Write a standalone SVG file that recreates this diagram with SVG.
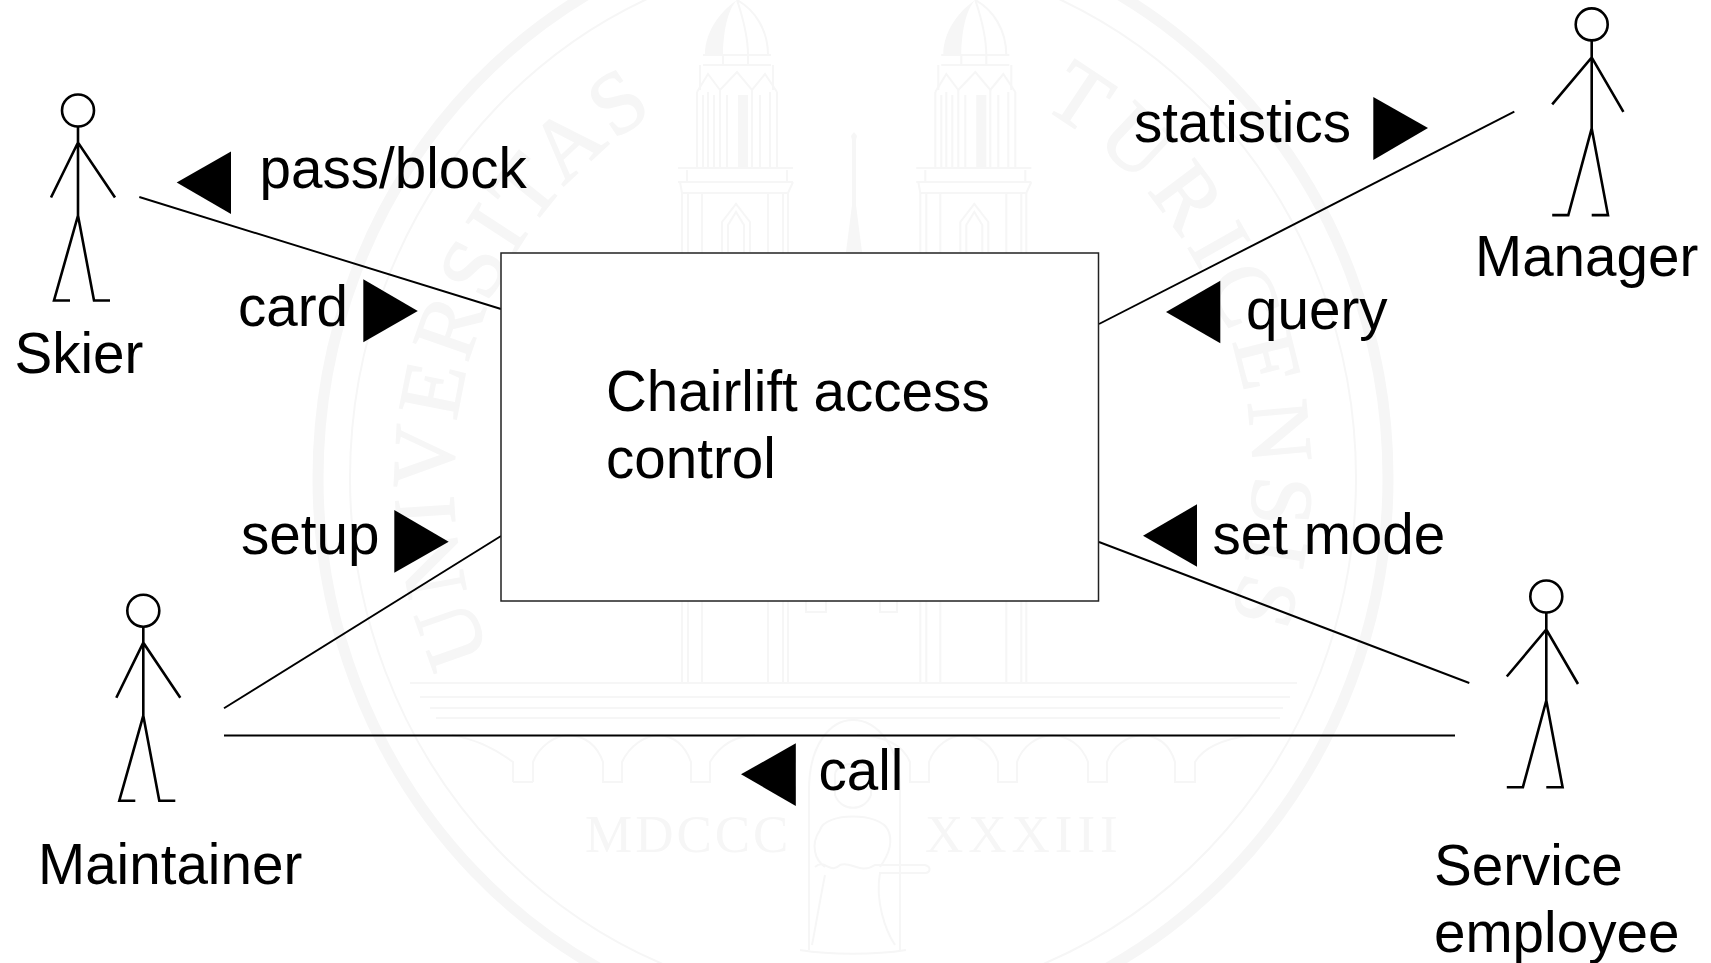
<svg xmlns="http://www.w3.org/2000/svg" width="1711" height="963" viewBox="0 0 1711 963">
  <style>
    .lbl { font-family: "Liberation Sans", Arial, sans-serif; font-size: 56.6px; fill: #000; }
    .fig { fill: #fff; stroke: #000; stroke-width: 2.6; }
    .figl { fill: none; stroke: #000; stroke-width: 2.6; }
    .conn { fill: none; stroke: #000; stroke-width: 1.9; }
    .tri { fill: #000; stroke: none; }
    .box { fill: #fff; stroke: #222; stroke-width: 1.5; }
    .wm { fill: none; stroke: #f6f6f6; stroke-width: 2; }
    .wmf { fill: #f6f6f6; stroke: none; }
    .wmt { font-family: "Liberation Serif", "Times New Roman", serif; fill: #f6f6f6; }
    .wmc { stroke: #f6f6f6; stroke-width: 1.5; }
  </style>
  <defs>
    <g id="actorA">
      <circle class="fig" cx="0" cy="0" r="16"/>
      <path class="figl" d="M0,16V105M-27,87L0,32L37,87M-8,190H-24L0,105L16,190H32"/>
    </g>
    <g id="actorB">
      <circle class="fig" cx="0" cy="0" r="16"/>
      <path class="figl" d="M0,16V104M-39.5,80L0,33L31.7,87.5M-39.5,190.7H-23.4L0,104L16.3,190.7H0"/>
    </g>
    <g id="tower">
      <path class="wmf" d="M705,55C705,30 722,10 737,0C727,10 723,35 723,55Z"/>
      <path class="wm" d="M737,0C755,10 768,30 768,55M737,0C742,15 748,35 748,55M703,55H771M703,65H771M723,55V65M748,55V65M700,65V90M773,65V90"/>
      <path class="wm" d="M697,92L708,74L720,90L737,72L752,90L765,74L777,92"/>
      <path class="wm" d="M697,92V168M703,95V168M708,92V168M714,95V168M720,90V168M727,95V168M752,90V168M760,95V168M770,92V168M777,92V168"/>
      <rect class="wmf" x="738" y="95" width="10" height="73"/>
      <path class="wm" d="M678,168H793M687,170V182M787,170V182M678,182H793M682,193H788M680,182L682,193M793,182L788,193"/>
      <path class="wm" d="M682,193V683M688,193V683M702,193V683M768,193V683M783,193V683M788,193V683"/>
      <path class="wm" d="M722,252V222L736,204L750,222V252M728,252V225L736,212L744,225V252"/>
    </g>
    <path id="arcL" d="M490.5,655.5A400,420 0 0 1 671.4,103.8"/>
    <path id="arcR" d="M1040.8,107.2A400,420 0 0 1 1223.9,635.3"/>
  </defs>

  <g id="watermark">
    <ellipse cx="853" cy="478" rx="535" ry="557" fill="none" stroke="#f6f6f6" stroke-width="11"/>
    <ellipse class="wm" cx="853" cy="478" rx="503" ry="525"/>
    <use href="#tower"/>
    <use href="#tower" transform="translate(238.3,0)"/>
    <path class="wmf" d="M851,136L854,132L857,136L856,140V205L862,252H846L852,205V140Z"/>
    <path class="wm" d="M806,601V612H826V601M880,601V612H897V601"/>
    <path class="wm" d="M410,683H1297M420,697H1290M430,708H1283M436,718H1280"/>
    <path class="wm" d="M513,782H533M513,782V762C490,745 470,738 452,735M533,782V762C540,745 555,736 568,735C585,736 597,745 603,762V782H622V762C630,745 645,736 658,735C675,736 685,745 691,762V782H710V762C720,745 735,736 755,735M603,782H622M691,782H710"/>
    <path class="wm" d="M857,735C885,736 903,745 910,762V782H929V762C935,745 950,736 963,735C980,736 992,745 998,762V782H1017V762C1023,745 1038,736 1052,735C1068,736 1082,745 1088,762V782H1107V762C1113,745 1128,736 1142,735C1158,736 1170,745 1175,762V782H1195V762C1205,745 1230,738 1252,735M910,782H929M998,782H1017M1088,782H1107M1175,782H1195"/>
    <text class="wmt" font-size="53" letter-spacing="3" x="585" y="852">MDCCC</text>
    <text class="wmt" font-size="53" letter-spacing="5" x="925" y="852">XXXIII</text>
    <text class="wmt wmc" font-size="88" letter-spacing="4.8"><textPath href="#arcL">UNIVERSITAS</textPath></text>
    <text class="wmt wmc" font-size="88" letter-spacing="9"><textPath href="#arcR">TURICENSIS</textPath></text>
    <path class="wm" d="M809,950V790C809,745 830,720 853,720C876,720 900,745 900,790V950M800,950C830,955 875,955 906,950"/>
    <path class="wm" d="M835,775C835,760 871,760 871,775V795C865,812 841,812 835,795ZM820,830C825,812 880,812 888,830C895,845 885,860 880,867M820,830C810,845 815,860 825,867M815,867C825,858 830,875 840,865C850,860 860,875 875,865H925C932,867 930,873 925,873H880C875,900 885,930 895,945M825,875C820,900 815,930 812,945"/>
  </g>

  <g id="connectors">
    <line class="conn" x1="139.3" y1="197" x2="501" y2="309"/>
    <line class="conn" x1="224" y1="708.3" x2="501" y2="536"/>
    <line class="conn" x1="224" y1="735.5" x2="1455" y2="735.5"/>
    <line class="conn" x1="1099" y1="542" x2="1469.3" y2="683"/>
    <line class="conn" x1="1099" y1="324" x2="1514.3" y2="111.7"/>
  </g>

  <g id="system">
    <rect class="box" x="501" y="253" width="597.5" height="348"/>
    <text class="lbl" x="606" y="410.5">Chairlift access</text>
    <text class="lbl" x="606" y="477.5">control</text>
  </g>

  <g id="skier">
    <use href="#actorA" x="78" y="110.5"/>
    <text class="lbl" x="14.5" y="373">Skier</text>
  </g>
  <g id="maintainer">
    <use href="#actorA" x="143.3" y="610.7"/>
    <text class="lbl" x="38" y="884">Maintainer</text>
  </g>
  <g id="manager">
    <use href="#actorB" x="1591.7" y="24.4"/>
    <text class="lbl" x="1475" y="276">Manager</text>
  </g>
  <g id="service-employee">
    <use href="#actorB" x="1546.3" y="596.5"/>
    <text class="lbl" x="1434" y="885">Service</text>
    <text class="lbl" x="1434" y="952">employee</text>
  </g>

  <g id="flow-pass-block">
    <polygon class="tri" points="176.7,182.5 231,151.5 231,214"/>
    <text class="lbl" x="259.5" y="188">pass/block</text>
  </g>
  <g id="flow-card">
    <polygon class="tri" points="363.3,279.3 363.3,342.3 417.8,311"/>
    <text class="lbl" x="238" y="326">card</text>
  </g>
  <g id="flow-setup">
    <polygon class="tri" points="394.3,510 394.3,572.7 448.7,541.7"/>
    <text class="lbl" x="241" y="554">setup</text>
  </g>
  <g id="flow-statistics">
    <polygon class="tri" points="1373.3,97 1373.3,160 1428,128"/>
    <text class="lbl" x="1134" y="142">statistics</text>
  </g>
  <g id="flow-query">
    <polygon class="tri" points="1166,312 1220.3,280.7 1220.3,343.3"/>
    <text class="lbl" x="1246" y="328.5">query</text>
  </g>
  <g id="flow-set-mode">
    <polygon class="tri" points="1143,535.7 1197,504.3 1197,566.7"/>
    <text class="lbl" x="1212.5" y="554">set mode</text>
  </g>
  <g id="flow-call">
    <polygon class="tri" points="741,774.3 795.8,743.3 795.8,806"/>
    <text class="lbl" x="818.5" y="790">call</text>
  </g>
</svg>
